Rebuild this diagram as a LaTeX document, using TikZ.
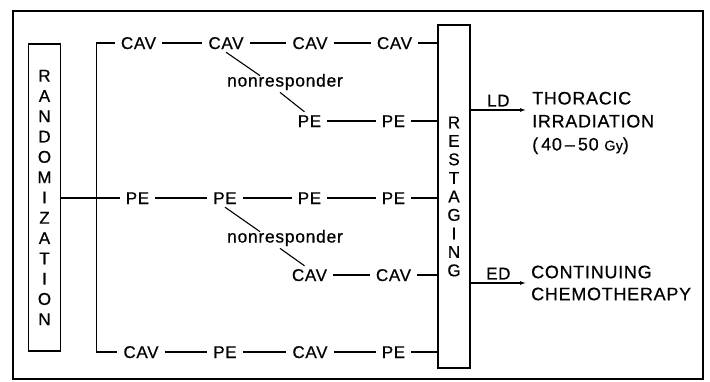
\documentclass[tikz,border=0pt]{standalone}
\usepackage{fontspec}
\setmainfont{Liberation Sans}[FakeBold=0.6, LetterSpace=4]
\usetikzlibrary{arrows.meta}

\begin{document}
\begin{tikzpicture}[x=1pt, y=-1pt,
  arm/.style={font=\fontsize{17}{20}\selectfont, inner xsep=6pt, inner ysep=3pt, text height=12pt, text depth=0pt},
  nonresp/.style={font=\fontsize{17.5}{20}\selectfont, inner sep=2pt},
  tallbox/.style={draw, line width=1.4pt, minimum width=32pt, align=center, inner sep=0pt},
  link/.style={line width=1.1pt},
  outcome/.style={font=\fontsize{18}{23}\selectfont, align=left, anchor=west, inner sep=0pt},
  arr/.style={line width=1.1pt, -{Latex[length=6pt,width=4pt]}}]
\useasboundingbox (0,0) rectangle (710,381);
\draw[line width=2pt] (13,11) rectangle (703,379);

% the two tall boxes
\node[tallbox, minimum height=307pt, font=\fontsize{17}{20.3}\selectfont] (rand) at (44.5,197.5)
  {R\\A\\N\\D\\O\\M\\I\\Z\\A\\T\\I\\O\\N};
\node[tallbox, minimum height=343pt, font=\fontsize{17}{18.5}\selectfont] (restage) at (454,196.5)
  {R\\E\\S\\T\\A\\G\\I\\N\\G};

% arm 1: CAV x4, nonresponders to PE
\node[arm] (a1) at (138.5,43) {CAV};
\node[arm] (a2) at (226,43) {CAV};
\node[arm] (a3) at (310,43) {CAV};
\node[arm] (a4) at (394.5,43) {CAV};
\node[nonresp] (nrA) at (285,82) {nonresponder};
\node[arm] (b1) at (309.5,121) {PE};
\node[arm] (b2) at (393.5,121) {PE};

% arm 2: PE x4, nonresponders to CAV
\node[arm] (c1) at (137.5,198) {PE};
\node[arm] (c2) at (225,198) {PE};
\node[arm] (c3) at (309.5,198) {PE};
\node[arm] (c4) at (393.5,198) {PE};
\node[nonresp] (nrB) at (285,238) {nonresponder};
\node[arm] (d1) at (309.5,275) {CAV};
\node[arm] (d2) at (393.5,275) {CAV};

% arm 3: alternating
\node[arm] (e1) at (141,352) {CAV};
\node[arm] (e2) at (225,352) {PE};
\node[arm] (e3) at (310,352) {CAV};
\node[arm] (e4) at (393.5,352) {PE};

% connectors
\draw[link] (a1) -- (a2) -- (a3) -- (a4);
\draw[link] (b1) -- (b2);
\draw[link] (c1) -- (c2) -- (c3) -- (c4);
\draw[link] (d1) -- (d2);
\draw[link] (e1) -- (e2) -- (e3) -- (e4);

\draw[link] (a2.south) -- ([shift={(-25,4)}]nrA.north);
\draw[link] ([xshift=-5pt]nrA.south) -- ([xshift=-5pt]b1.north);
\draw[link] (c2.south) -- ([shift={(-25,4)}]nrB.north);
\draw[link] ([xshift=-5pt]nrB.south) -- ([xshift=-5pt]d1.north);

\draw[link] (a1.west) -- ++(-18,0) |- (e1.west);
\draw[link] (rand.east |- c1.west) -- (c1.west);

\draw[link] (a4.east) -- (restage.west |- a4.east);
\draw[link] (b2.east) -- (restage.west |- b2.east);
\draw[link] (c4.east) -- (restage.west |- c4.east);
\draw[link] (d2.east) -- (restage.west |- d2.east);
\draw[link] (e4.east) -- (restage.west |- e4.east);

% outcomes
\node[outcome] (thorax) at (532,123) {THORACIC\\IRRADIATION\\(\,40\,--\,50 {\fontsize{14}{16}\selectfont Gy})};
\node[outcome, font=\fontsize{18}{22}\selectfont] (chemo) at (531,283) {CONTINUING\\CHEMOTHERAPY};
\coordinate (ldend) at (526,110);
\coordinate (edend) at (526,283);
\draw[arr] (restage.east |- ldend) -- (ldend) node[midway, above, font=\fontsize{17}{20}\selectfont, inner sep=3pt] {LD};
\draw[arr] (restage.east |- edend) -- (edend) node[midway, above, font=\fontsize{17}{20}\selectfont, inner sep=3pt] {ED};
\end{tikzpicture}
\end{document}
